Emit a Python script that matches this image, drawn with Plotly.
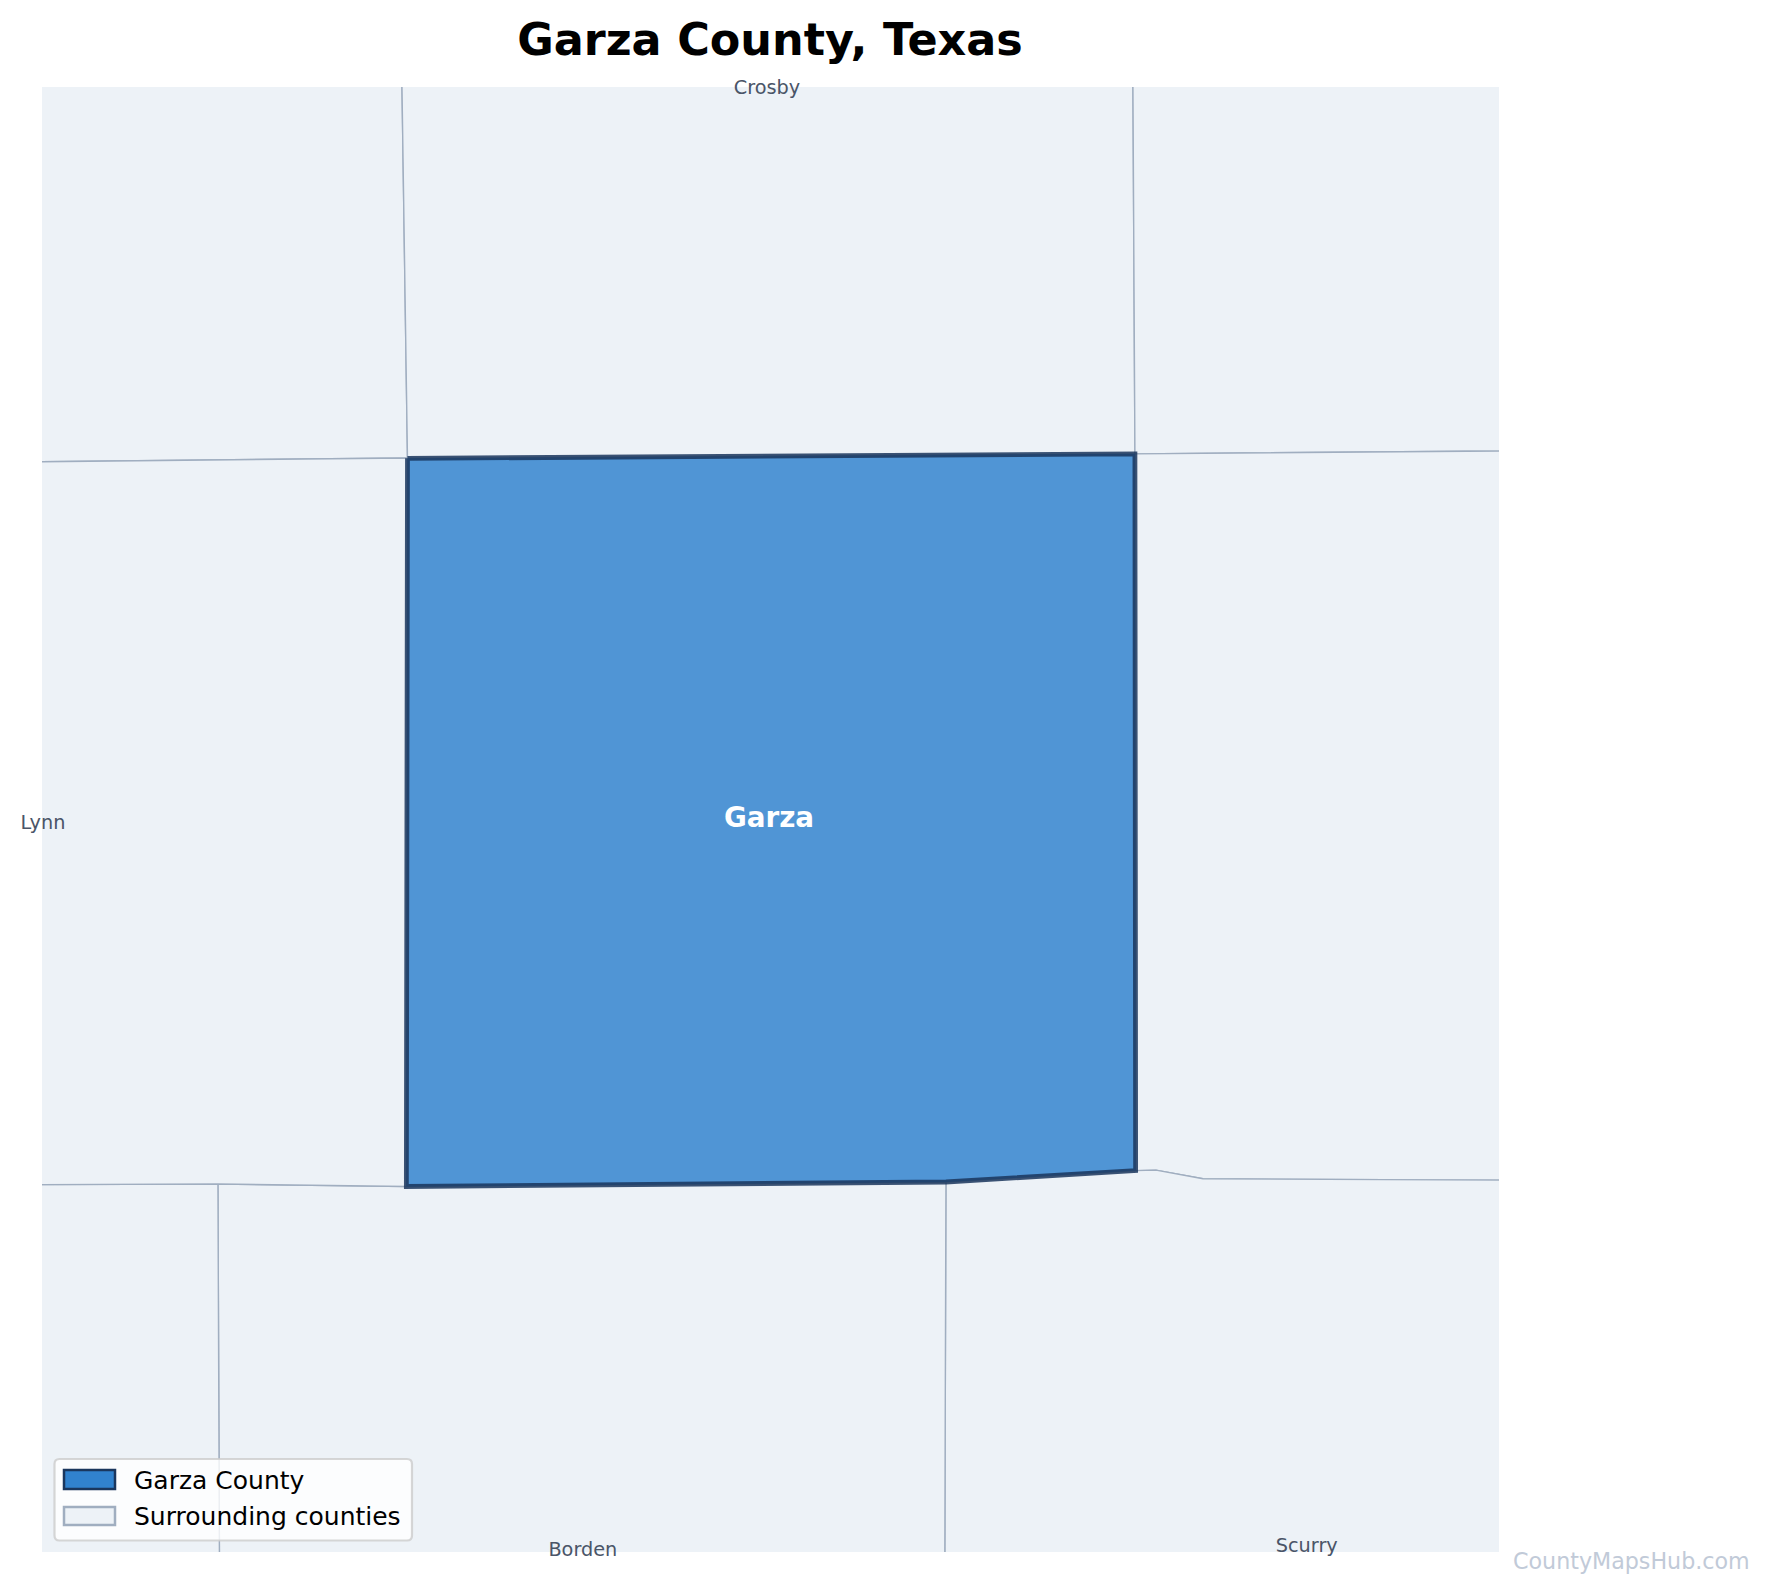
import plotly.graph_objects as go

# County outlines (longitude, latitude)
garza_lon = [-101.557, -101.0385, -101.038, -101.1732, -101.5578, -101.557]
garza_lat = [33.3943, 33.397, 32.9691, 32.9623, 32.9596, 33.3943]

neighbor_names = ["Lubbock", "Crosby", "Dickens", "Kent", "Scurry", "Borden", "Dawson", "Lynn"]
neighbor_lons = [
    [-101.5647, -101.557, -102.08, -102.08, -101.5647],
    [-101.5647, -101.0413, -101.0385, -101.557, -101.5647],
    [-101.0413, -100.52, -100.52, -101.0385, -101.0413],
    [-101.0385, -100.52, -100.52, -100.99, -101.0235, -101.038, -101.0385],
    [-101.038, -101.0235, -100.99, -100.52, -100.52, -101.1748, -101.1732, -101.038],
    [-101.1732, -101.1748, -101.690, -101.6921, -101.5578, -101.1732],
    [-101.6921, -101.690, -102.08, -102.08, -101.6921],
    [-101.557, -101.5578, -101.6921, -102.08, -102.08, -101.557],
]
neighbor_lats = [
    [33.83, 33.3945, 33.3901, 33.83, 33.83],
    [33.83, 33.83, 33.397, 33.3943, 33.83],
    [33.83, 33.83, 33.4004, 33.397, 33.83],
    [33.397, 33.4004, 32.9625, 32.9642, 32.9694, 32.9691, 33.397],
    [32.9691, 32.9694, 32.9642, 32.9625, 32.52, 32.52, 32.9623, 32.9691],
    [32.9623, 32.52, 32.52, 32.9611, 32.9596, 32.9623],
    [32.9611, 32.52, 32.52, 32.96, 32.9611],
    [33.3945, 32.9596, 32.9611, 32.96, 33.3901, 33.3945],
]

label_names = ["Crosby", "Lynn", "Borden", "Scurry"]
label_lons = [-101.3007, -101.8168, -101.4320, -100.9160]
label_lats = [33.6148, 33.1758, 32.7418, 32.7442]
garza_label_lon = [-101.2993]
garza_label_lat = [33.1781]

legend_names = ["Garza County", "Surrounding counties"]

FONT = "DejaVu Sans"
PLOT_L, PLOT_R, PLOT_T, PLOT_B = 42, 1499, 87, 1552


def px(x):
    return (x - PLOT_L) / (PLOT_R - PLOT_L)


def py(y):
    return (PLOT_B - y) / (PLOT_B - PLOT_T)


def rounded_box(x0, y0, x1, y1, r):
    a, b, c, d = px(x0), px(x1), py(y0), py(y1)
    rx, ry = r / (PLOT_R - PLOT_L), r / (PLOT_B - PLOT_T)
    return (f"M {a + rx} {c} L {b - rx} {c} Q {b} {c} {b} {c - ry} L {b} {d + ry} Q {b} {d} {b - rx} {d} "
            f"L {a + rx} {d} Q {a} {d} {a} {d + ry} L {a} {c - ry} Q {a} {c} {a + rx} {c} Z")


fig = go.Figure()

for name, lons, lats in zip(neighbor_names, neighbor_lons, neighbor_lats):
    fig.add_trace(go.Scatter(x=lons, y=lats, mode="lines", fill="toself", name=name, showlegend=False,
                             fillcolor="#edf2f7", line=dict(color="#a0aec0", width=1.4), hoverinfo="name"))

fig.add_trace(go.Scatter(x=garza_lon, y=garza_lat, mode="lines", fill="toself", name="Garza", showlegend=False,
                         fillcolor="rgba(49,130,206,0.85)", line=dict(color="rgba(26,54,93,0.85)", width=4.8),
                         hoverinfo="name"))

fig.add_trace(go.Scatter(x=label_lons, y=label_lats, mode="text", text=label_names, showlegend=False,
                         cliponaxis=False, textposition="middle center", hoverinfo="skip",
                         textfont=dict(family=FONT, size=19.3, color="#4a5568")))
fig.add_trace(go.Scatter(x=garza_label_lon, y=garza_label_lat, mode="text", text=["<b>Garza</b>"], showlegend=False,
                         cliponaxis=False, textposition="middle center", hoverinfo="skip",
                         textfont=dict(family=FONT, size=27.8, color="white")))

shapes = [
    dict(type="path", xref="paper", yref="paper", path=rounded_box(54.5, 1459, 412, 1540.5, 5),
         fillcolor="rgba(255,255,255,0.8)", line=dict(color="rgba(204,204,204,0.8)", width=2.2), layer="above"),
    dict(type="rect", xref="paper", yref="paper", x0=px(64), x1=px(115), y0=py(1470), y1=py(1489),
         fillcolor="#3182ce", line=dict(color="#1a365d", width=2.5), layer="above"),
    dict(type="rect", xref="paper", yref="paper", x0=px(64), x1=px(115), y0=py(1507), y1=py(1525),
         fillcolor="#edf2f7", line=dict(color="#a0aec0", width=2.5), layer="above"),
]

annotations = [
    dict(text="CountyMapsHub.com", xref="paper", yref="paper", x=px(1752), y=py(1561),
         xanchor="right", yanchor="middle", showarrow=False, font=dict(family=FONT, size=22.2, color="#c1cad8")),
    dict(text=legend_names[0], xref="paper", yref="paper", x=px(132), y=py(1480), xanchor="left", yanchor="middle",
         showarrow=False, font=dict(family=FONT, size=25, color="black")),
    dict(text=legend_names[1], xref="paper", yref="paper", x=px(132), y=py(1516), xanchor="left", yanchor="middle",
         showarrow=False, font=dict(family=FONT, size=25, color="black")),
]

fig.update_layout(
    width=1770, height=1594,
    margin=dict(l=42, r=271, t=87, b=42),
    paper_bgcolor="white", plot_bgcolor="white",
    font=dict(family=FONT),
    showlegend=False,
    title=dict(text="<b>Garza County, Texas</b>", x=770 / 1770, xanchor="center", y=1 - 39 / 1594, yanchor="middle",
               font=dict(family=FONT, size=44.5, color="black")),
    xaxis=dict(range=[-101.8175, -100.779], visible=False),
    yaxis=dict(range=[32.7414, 33.616], visible=False),
    shapes=shapes,
    annotations=annotations,
)

fig.write_html("out.html", config=dict(displayModeBar=False),
               post_script="document.body.style.margin='0';document.body.style.overflow='hidden';")
